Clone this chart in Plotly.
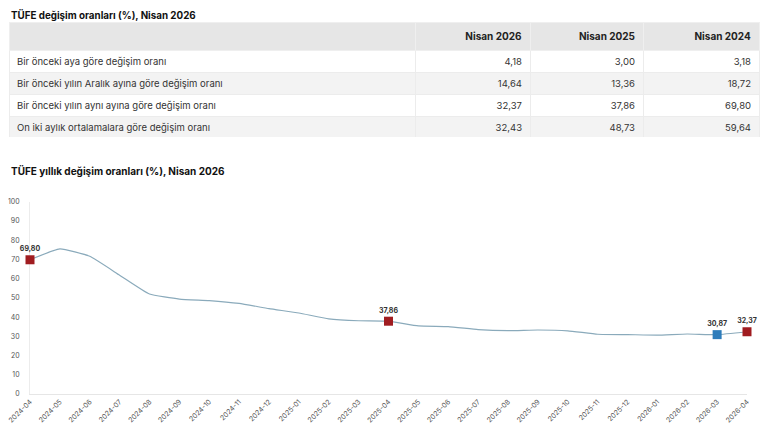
import plotly.graph_objects as go

# page is 770x440; the html body adds an 8px margin around the figure
PAGE_OFF = 8
W, H = 770 - 2 * PAGE_OFF, 440 - 2 * PAGE_OFF

# ---- table data ----
table_title = "TÜFE değişim oranları (%), Nisan 2026"
col_headers = ["", "Nisan 2026", "Nisan 2025", "Nisan 2024"]
row_labels = [
    "Bir önceki aya göre değişim oranı",
    "Bir önceki yılın Aralık ayına göre değişim oranı",
    "Bir önceki yılın aynı ayına göre değişim oranı",
    "On iki aylık ortalamalara göre değişim oranı",
]
nisan_2026 = ["4,18", "14,64", "32,37", "32,43"]
nisan_2025 = ["3,00", "13,36", "37,86", "48,73"]
nisan_2024 = ["3,18", "18,72", "69,80", "59,64"]

# ---- chart data ----
chart_title = "TÜFE yıllık değişim oranları (%), Nisan 2026"
months = [
    "2024-04", "2024-05", "2024-06", "2024-07", "2024-08", "2024-09", "2024-10",
    "2024-11", "2024-12", "2025-01", "2025-02", "2025-03", "2025-04", "2025-05",
    "2025-06", "2025-07", "2025-08", "2025-09", "2025-10", "2025-11", "2025-12",
    "2026-01", "2026-02", "2026-03", "2026-04",
]
annual_rate = [
    69.80, 75.45, 71.60, 61.78, 51.97, 49.38, 48.58, 47.09, 44.38, 42.12,
    39.05, 38.10, 37.86, 35.41, 35.05, 33.52, 32.95, 33.29, 32.87, 31.07,
    30.89, 30.65, 31.20, 30.87, 32.37,
]
red_months = ["2024-04", "2025-04", "2026-04"]
red_labels = ["69,80", "37,86", "32,37"]
blue_months = ["2026-03"]
blue_labels = ["30,87"]
y_ticks = [0, 10, 20, 30, 40, 50, 60, 70, 80, 90, 100]

FONT = "Inter, Roboto, 'Noto Sans', sans-serif"

def px_x(v):
    return (v - PAGE_OFF) / W

def px_y(v):
    return 1 - (v - PAGE_OFF) / H

fig = go.Figure()

# Table
white, gray = "#ffffff", "#f3f3f3"
fills = [white, gray, white, gray]
fig.add_trace(go.Table(
    domain=dict(x=[px_x(9), px_x(759)], y=[px_y(138), px_y(22)]),
    columnwidth=[406, 115, 113, 116],
    header=dict(
        values=["<b>%s</b>" % h if h else "" for h in col_headers],
        fill_color="#e6e6e6",
        line=dict(color="#efefef", width=1),
        align=["left", "right", "right", "right"],
        font=dict(family=FONT, size=10, color="#222222"),
        height=22,
    ),
    cells=dict(
        values=[row_labels, nisan_2026, nisan_2025, nisan_2024],
        fill_color=[fills] * 4,
        line=dict(color="#ececec", width=1),
        align=["left", "right", "right", "right"],
        font=dict(family=FONT, size=9.5, color="#333333"),
        height=22,
    ),
))

# Line
fig.add_trace(go.Scatter(
    x=months, y=annual_rate, mode="lines",
    line=dict(color="#8aaabb", width=1.2, shape="spline", smoothing=0.4),
    hoverinfo="skip", showlegend=False, cliponaxis=False,
))

red_y = [annual_rate[months.index(m)] for m in red_months]
blue_y = [annual_rate[months.index(m)] for m in blue_months]

fig.add_trace(go.Scatter(
    x=red_months, y=red_y, mode="markers+text",
    marker=dict(symbol="square", size=9, color="#a01c20"),
    text=["<b>%s</b>" % t for t in red_labels], textposition="top center",
    textfont=dict(family=FONT, size=7, color="#333333"),
    showlegend=False, cliponaxis=False,
))
fig.add_trace(go.Scatter(
    x=blue_months, y=blue_y, mode="markers+text",
    marker=dict(symbol="square", size=9, color="#2d7cbb"),
    text=["<b>%s</b>" % t for t in blue_labels], textposition="top center",
    textfont=dict(family=FONT, size=7, color="#333333"),
    showlegend=False, cliponaxis=False,
))

fig.update_layout(
    width=W, height=H,
    margin=dict(l=0, r=0, t=0, b=0, autoexpand=False),
    paper_bgcolor="white", plot_bgcolor="white",
    font=dict(family=FONT),
    xaxis=dict(
        domain=[px_x(30), px_x(747)],
        type="category", categoryorder="array", categoryarray=months,
        range=[0, len(months) - 1], automargin=False,
        tickangle=-45, showgrid=False, zeroline=False,
        showline=True, linecolor="#e6e6e6", linewidth=1,
        layer="below traces",
        ticks="", tickfont=dict(family=FONT, size=7, color="#555555"),
        anchor="y", fixedrange=True,
    ),
    yaxis=dict(
        domain=[px_y(394), px_y(201.7)],
        range=[0, 100], tickvals=y_ticks, automargin=False,
        showgrid=False, zeroline=False,
        showline=True, linecolor="#ececec", linewidth=1,
        layer="below traces",
        ticks="", ticklabelstandoff=8,
        tickfont=dict(family=FONT, size=7, color="#555555"),
        anchor="x", fixedrange=True,
    ),
    annotations=[
        dict(text="<b>%s</b>" % table_title, x=px_x(9), y=px_y(15.5),
             xref="paper", yref="paper", xanchor="left", yanchor="middle",
             showarrow=False, font=dict(family=FONT, size=9.8, color="#111111")),
        dict(text="<b>%s</b>" % chart_title, x=px_x(9), y=px_y(171),
             xref="paper", yref="paper", xanchor="left", yanchor="middle",
             showarrow=False, font=dict(family=FONT, size=10, color="#111111")),
    ],
)

fig.write_html("out.html")
